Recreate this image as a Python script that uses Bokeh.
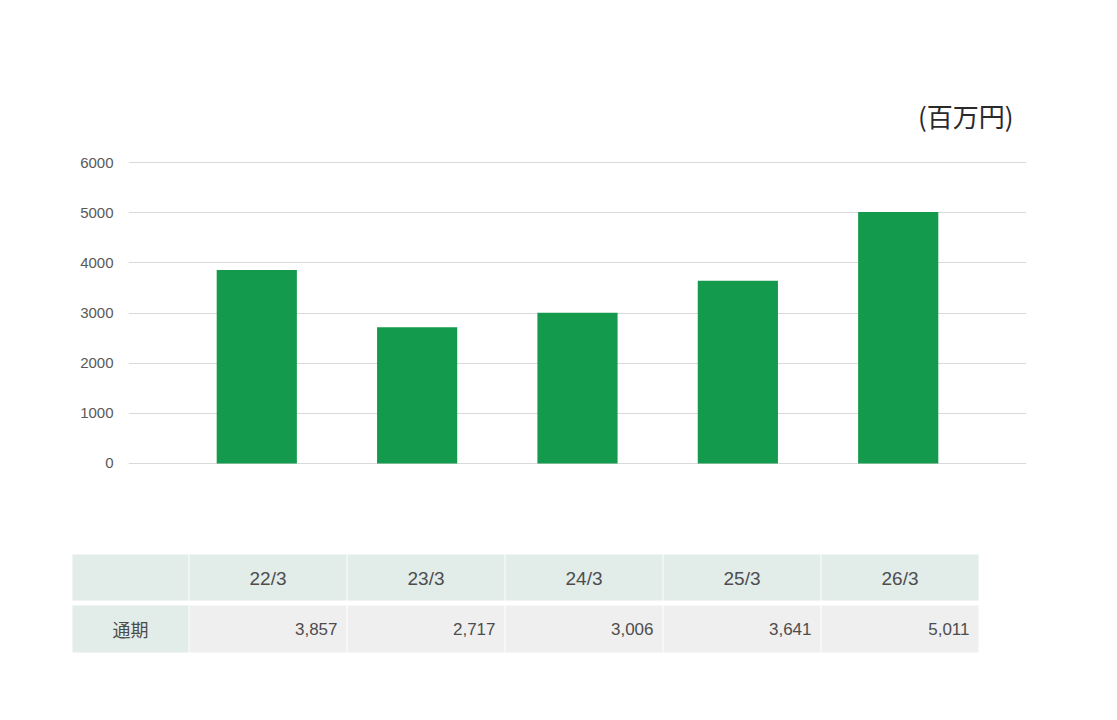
from bokeh.plotting import figure
from bokeh.models import (ColumnDataSource, FactorRange, Range1d, FixedTicker, Title)
from bokeh.layouts import column
from bokeh.embed import file_html
from bokeh.resources import INLINE
from bokeh.core.properties import value

# ---- data ----
periods = ["22/3", "23/3", "24/3", "25/3", "26/3"]
values = [3857, 2717, 3006, 3641, 5011]
row_label = "通期"
unit_label = "(百万円)"
y_ticks = [0, 1000, 2000, 3000, 4000, 5000, 6000]

BAR_COLOR = "#149a4c"
GRID_COLOR = "#d9d9d9"
HEAD_BG = "#e2ece9"
CELL_BG = "#efefef"
TEXT_COLOR = "#4d4d4d"
LATIN = "Liberation Sans"
CJK = "Noto Sans CJK JP"

# ---- bar chart ----
p = figure(width=1100, height=553, output_backend="svg", toolbar_location=None,
           x_range=FactorRange(factors=periods, range_padding=0.3,
                               range_padding_units="absolute"),
           y_range=Range1d(-20, 6020),
           min_border_left=128, min_border_right=74,
           min_border_top=161, min_border_bottom=89)
p.frame_align = False
p.outline_line_color = None
p.background_fill_color = "white"
p.border_fill_color = "white"

src = ColumnDataSource(dict(period=periods, value=values))
p.vbar(x="period", top="value", width=0.5, source=src,
       fill_color=BAR_COLOR, line_color=None)

p.xaxis.visible = False
p.xgrid.grid_line_color = None
p.ygrid.grid_line_color = GRID_COLOR
p.ygrid.grid_line_width = 1
p.yaxis.ticker = FixedTicker(ticks=y_ticks)
p.yaxis.axis_line_color = None
p.yaxis.major_tick_line_color = None
p.yaxis.major_tick_out = 0
p.yaxis.major_tick_in = 0
p.yaxis.minor_tick_line_color = None
p.yaxis.major_label_standoff = 15
p.yaxis.major_label_text_font = LATIN
p.yaxis.major_label_text_font_size = "15px"
p.yaxis.major_label_text_color = "#595959"

t = Title(text=unit_label, align="right", offset=13, standoff=55,
          text_font=CJK, text_font_size="26px", text_font_style="normal",
          text_color="#2a2a2a")
p.add_layout(t, "above")

# ---- table ----
tbl = figure(width=1100, height=110, output_backend="svg", toolbar_location=None,
             x_range=Range1d(0, 1100), y_range=Range1d(110, 0),
             min_border=0)
tbl.frame_align = False
tbl.outline_line_color = None
tbl.axis.visible = False
tbl.grid.visible = False

first_l, first_r = 72, 188
col_l0, col_w, col_step = 189, 157, 158
head_t, head_b = 1, 47
data_t, data_b = 52, 99

lefts = [col_l0 + col_step * i for i in range(len(periods))]
rights = [l + col_w for l in lefts]
centers = [(l + r) / 2 for l, r in zip(lefts, rights)]

# header row
tbl.quad(left=[first_l] + lefts, right=[first_r] + rights,
         top=[head_t] * (len(periods) + 1), bottom=[head_b] * (len(periods) + 1),
         fill_color=HEAD_BG, line_color=None)
# data row
tbl.quad(left=[first_l], right=[first_r], top=[data_t], bottom=[data_b],
         fill_color=HEAD_BG, line_color=None)
tbl.quad(left=lefts, right=rights, top=[data_t] * len(periods),
         bottom=[data_b] * len(periods), fill_color=CELL_BG, line_color=None)

tbl.text(x=centers, y=[(head_t + head_b) / 2 + 1] * len(periods), text=periods,
         text_align="center", text_baseline="middle",
         text_font=value(LATIN), text_font_size="19px", text_color=TEXT_COLOR)
tbl.text(x=[r - 9 for r in rights], y=[(data_t + data_b) / 2] * len(periods),
         text=[f"{v:,}" for v in values],
         text_align="right", text_baseline="middle",
         text_font=value(LATIN), text_font_size="17px", text_color=TEXT_COLOR)
tbl.text(x=[(first_l + first_r) / 2], y=[(data_t + data_b) / 2], text=[row_label],
         text_align="center", text_baseline="middle",
         text_font=value(CJK), text_font_size="18px", text_color=TEXT_COLOR)

layout = column(p, tbl, spacing=0)
open("out.html", "w").write(file_html(layout, INLINE))
